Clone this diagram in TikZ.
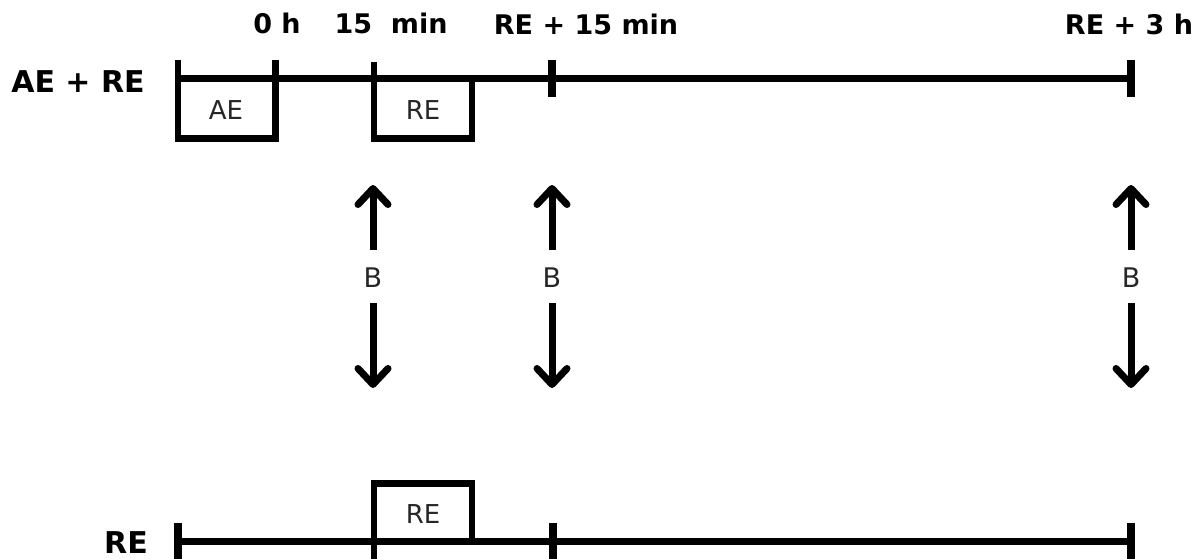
\documentclass[tikz,border=0pt]{standalone}
\usepackage{fontspec}
\setmainfont{DejaVu Sans}
\usetikzlibrary{arrows.meta}
\begin{document}
\begin{tikzpicture}[x=1pt,y=-1pt,
  axisline/.style={line width=6.5pt},
  tickmark/.style={line width=7.5pt},
  boxline/.style={line width=6.5pt, line join=miter},
  arr/.style={line width=7pt, -{Straight Barb[length=16pt,width=30pt,round]}},
  rowlab/.style={font=\fontsize{30}{36}\selectfont\bfseries, anchor=base, inner sep=0pt},
  timelab/.style={font=\fontsize{27}{32}\selectfont\bfseries, anchor=base, inner sep=0pt},
  boxlab/.style={font=\fontsize{26}{31}\selectfont, anchor=base, inner sep=0pt, text=black!85},
  blab/.style={font=\fontsize{27}{32}\selectfont, anchor=base, inner sep=0pt, text=black!85},
]
\useasboundingbox (0,0) rectangle (1199,559);

% labels
\node[rowlab] (lab1) at (78,93) {AE + RE};
\node[rowlab] (lab2) at (126,553) {RE};
\node[timelab] (t0) at (277,34) {0 h};
\node[timelab] (t15) at (391,34) {15\ \ min};
\node[timelab] (tre15) at (586,34.5) {RE + 15 min};
\node[timelab] (tre3) at (1129,34.5) {RE + 3 h};

% top timeline
\coordinate (a0) at (178,78.5);
\coordinate (a1) at (1131,78.5);
\draw[axisline] (a0) -- (a1);
\draw[boxline] (178,60) -- (178,138.5) -- (275.5,138.5) -- (275.5,60);
\draw[boxline] (374,62) -- (374,138.5) -- (472,138.5) -- (472,78.5);
\draw[tickmark] (552,60) -- (552,97);
\draw[tickmark] (1131,60) -- (1131,97);
\node[boxlab] (ae) at (226,120) {AE};
\node[boxlab] (re1) at (423,120) {RE};

% bottom timeline
\coordinate (b0) at (178,541.5);
\coordinate (b1) at (1131,541.5);
\draw[axisline] (b0) -- (b1);
\draw[tickmark] (178,523) -- (178,560);
\draw[boxline] (374,560) -- (374,483.5) -- (472,483.5) -- (472,541.5);
\draw[tickmark] (553,523) -- (553,560);
\draw[tickmark] (1131,523) -- (1131,560);
\node[boxlab] (re2) at (423,523) {RE};

% blood sampling arrows
\foreach \x/\n in {373/p, 552/q, 1131/r} {
  \node[blab] (B\n) at (\x,287) {B};
  \coordinate (u\n s) at (\x,250);
  \coordinate (u\n e) at (\x,185);
  \coordinate (d\n s) at (\x,303);
  \coordinate (d\n e) at (\x,388);
  \draw[arr] (u\n s) -- (u\n e);
  \draw[arr] (d\n s) -- (d\n e);
}
\end{tikzpicture}
\end{document}
